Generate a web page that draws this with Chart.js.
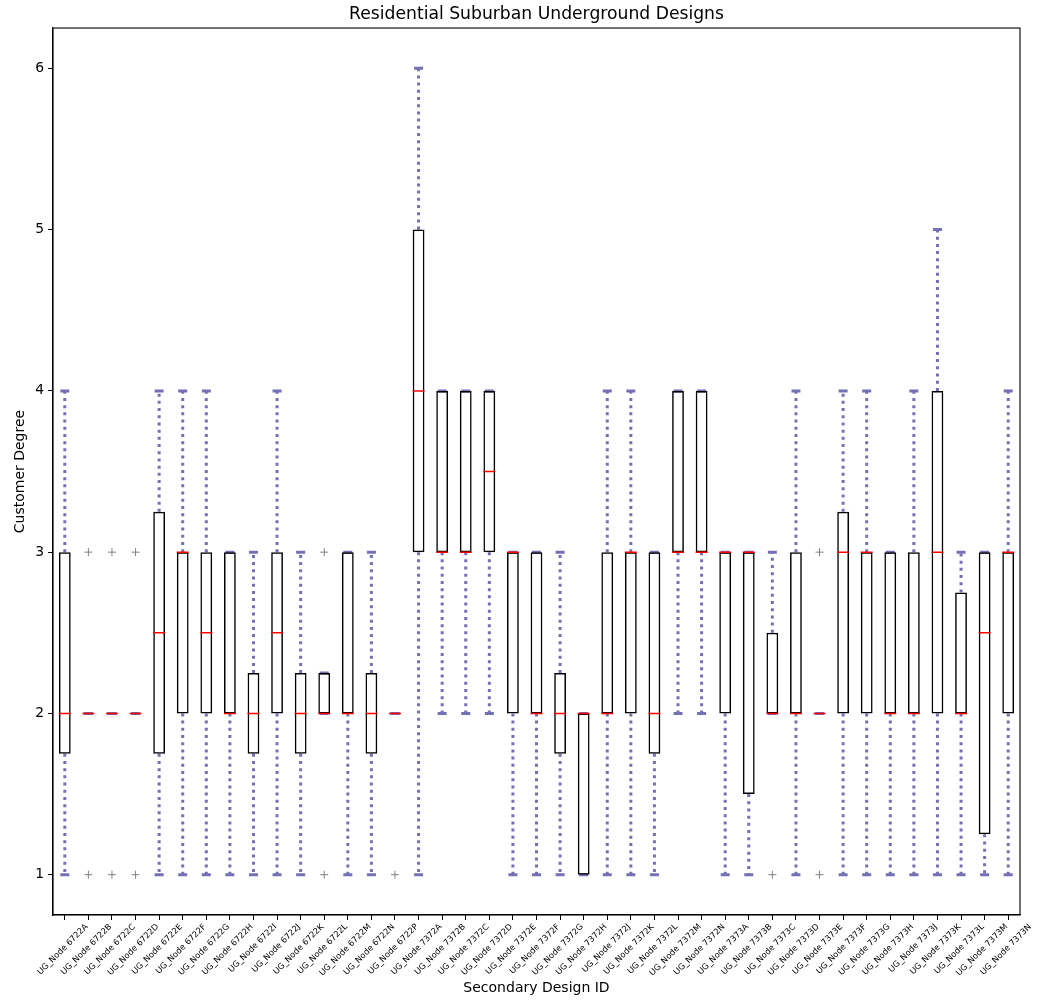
<!doctype html>
<html lang="en">
<head>
  <meta charset="utf-8" />
  <title>Residential Suburban Underground Designs</title>
  <script src="https://cdn.jsdelivr.net/npm/chart.js@4.4.1/dist/chart.umd.min.js"></script>
  <style>
    *{box-sizing:border-box;margin:0;padding:0}
    html,body{background:#fff}
    #wrapper{width:1039px;height:1001px;position:relative}
  </style>
</head>
<body>
  <div id="wrapper">
    <canvas id="boxChart" width="1039" height="1001"></canvas>
  </div>

  <script>
    /* ===== data ===== */
    const categories = [
      'UG_Node 6722A','UG_Node 6722B','UG_Node 6722C','UG_Node 6722D','UG_Node 6722E',
      'UG_Node 6722F','UG_Node 6722G','UG_Node 6722H','UG_Node 6722I','UG_Node 6722J',
      'UG_Node 6722K','UG_Node 6722L','UG_Node 6722M','UG_Node 6722N','UG_Node 6722P',
      'UG_Node 7372A','UG_Node 7372B','UG_Node 7372C','UG_Node 7372D','UG_Node 7372E',
      'UG_Node 7372F','UG_Node 7372G','UG_Node 7372H','UG_Node 7372J','UG_Node 7372K',
      'UG_Node 7372L','UG_Node 7372M','UG_Node 7372N','UG_Node 7373A','UG_Node 7373B',
      'UG_Node 7373C','UG_Node 7373D','UG_Node 7373E','UG_Node 7373F','UG_Node 7373G',
      'UG_Node 7373H','UG_Node 7373J','UG_Node 7373K','UG_Node 7373L','UG_Node 7373M',
      'UG_Node 7373N'
    ];
    const whiskerLow  = [1,2,2,2,1, 1,1,1,1,1, 1,2,1,1,2, 1,2,2,2,1, 1,1,1,1,1, 1,2,2,1,1, 2,1,2,1,1, 1,1,1,1,1, 1];
    const q1          = [1.75,2,2,2,1.75, 2,2,2,1.75,2, 1.75,2,2,1.75,2, 3,3,3,3,2, 2,1.75,1,2,2, 1.75,3,3,2,1.5, 2,2,2,2,2, 2,2,2,2,1.25, 2];
    const medians     = [2,2,2,2,2.5, 3,2.5,2,2,2.5, 2,2,2,2,2, 4,3,3,3.5,3, 2,2,2,2,3, 2,3,3,3,3, 2,2,2,3,3, 2,2,3,2,2.5, 3];
    const q3          = [3,2,2,2,3.25, 3,3,3,2.25,3, 2.25,2.25,3,2.25,2, 5,4,4,4,3, 3,2.25,2,3,3, 3,4,4,3,3, 2.5,3,2,3.25,3, 3,3,4,2.75,3, 3];
    const whiskerHigh = [4,2,2,2,4, 4,4,3,3,4, 3,2.25,3,3,2, 6,4,4,4,3, 3,3,2,4,4, 3,4,4,3,3, 3,4,2,4,4, 3,4,5,3,3, 4];
    const fliersHigh  = [null,3,3,3,null, null,null,null,null,null, null,3,null,null,null, null,null,null,null,null, null,null,null,null,null, null,null,null,null,null, null,null,3,null,null, null,null,null,null,null, null];
    const fliersLow   = [null,1,1,1,null, null,null,null,null,null, null,1,null,null,1, null,null,null,null,null, null,null,null,null,null, null,null,null,null,null, 1,null,1,null,null, null,null,null,null,null, null];
    const yTicks = [1, 2, 3, 4, 5, 6];

    /* ===== build datasets ===== */
    const whiskerColor = '#7570b3';

    const whiskerPts = [];
    const capPts = [];
    const flierPts = [];
    categories.forEach((c, i) => {
      whiskerPts.push({x: c, y: q3[i]}, {x: c, y: whiskerHigh[i]}, {x: c, y: null});
      whiskerPts.push({x: c, y: q1[i]}, {x: c, y: whiskerLow[i]}, {x: c, y: null});
      capPts.push({x: c, y: whiskerLow[i]}, {x: c, y: whiskerHigh[i]});
      if (fliersHigh[i] !== null) flierPts.push({x: c, y: fliersHigh[i]});
      if (fliersLow[i] !== null) flierPts.push({x: c, y: fliersLow[i]});
    });

    // frame around the plot area (matplotlib spines)
    const framePlugin = {
      id: 'frame',
      afterDraw(chart) {
        const {ctx, chartArea: a} = chart;
        ctx.save();
        ctx.strokeStyle = '#000';
        ctx.lineWidth = 1.1;
        ctx.strokeRect(a.left, a.top, a.right - a.left, a.bottom - a.top);
        ctx.restore();
      }
    };

    Chart.defaults.font.family = '"DejaVu Sans", sans-serif';
    Chart.defaults.color = '#000';

    new Chart(document.getElementById('boxChart'), {
      type: 'bar',
      data: {
        labels: categories,
        datasets: [
          {
            label: 'boxes',
            data: categories.map((c, i) => [q1[i], q3[i]]),
            backgroundColor: 'rgba(255,255,255,0)',
            borderColor: '#000',
            borderWidth: 1.5,
            borderSkipped: false,
            barPercentage: 0.5,
            categoryPercentage: 1,
            order: 3
          },
          {
            type: 'line',
            label: 'whiskers',
            data: whiskerPts,
            borderColor: whiskerColor,
            borderWidth: 3,
            borderDash: [3, 4.2],
            pointRadius: 0,
            spanGaps: false,
            order: 5
          },
          {
            type: 'line',
            label: 'caps',
            data: capPts,
            showLine: false,
            pointStyle: 'line',
            pointRadius: 4.5,
            pointBorderWidth: 3,
            pointBorderColor: whiskerColor,
            order: 4
          },
          {
            type: 'line',
            label: 'medians',
            data: categories.map((c, i) => ({x: c, y: medians[i]})),
            showLine: false,
            pointStyle: 'line',
            pointRadius: 6,
            pointBorderWidth: 1.5,
            pointBorderColor: '#ff0000',
            order: 2
          },
          {
            type: 'line',
            label: 'fliers',
            data: flierPts,
            showLine: false,
            pointStyle: 'cross',
            pointRadius: 4,
            pointBorderWidth: 1,
            pointBorderColor: '#808080',
            order: 1
          }
        ]
      },
      options: {
        responsive: false,
        animation: false,
        layout: {padding: {top: 0, left: 0, right: 19, bottom: 0}},
        plugins: {
          legend: {display: false},
          tooltip: {enabled: false},
          title: {
            display: true,
            fullSize: false,
            text: 'Residential Suburban Underground Designs',
            font: {size: 17.2, weight: 'normal'},
            color: '#000',
            padding: {top: 4.5, bottom: 2.9}
          }
        },
        scales: {
          x: {
            type: 'category',
            offset: true,
            grid: {drawOnChartArea: false, drawTicks: true, tickLength: 5, color: '#000', offset: false},
            border: {display: true, color: '#000', width: 1.1},
            ticks: {
              autoSkip: false,
              minRotation: 45,
              maxRotation: 45,
              labelOffset: 22,
              padding: 2,
              font: {size: 8.3},
              color: '#000'
            },
            title: {display: true, text: 'Secondary Design ID', font: {size: 14}, padding: {top: 4, bottom: 4}},
            afterFit(s) { s.height = 86; }
          },
          y: {
            min: 0.75,
            max: 6.25,
            grid: {drawOnChartArea: false, drawTicks: true, tickLength: 5, color: '#000'},
            border: {display: true, color: '#000', width: 1.1},
            ticks: {font: {size: 13.9}, padding: 4, color: '#000'},
            afterBuildTicks(s) { s.ticks = yTicks.map(v => ({value: v})); },
            title: {display: true, text: 'Customer Degree', font: {size: 14}, padding: {top: 12, bottom: 4}},
            afterFit(s) { s.width = 53; }
          }
        }
      },
      plugins: [framePlugin]
    });
  </script>
</body>
</html>
